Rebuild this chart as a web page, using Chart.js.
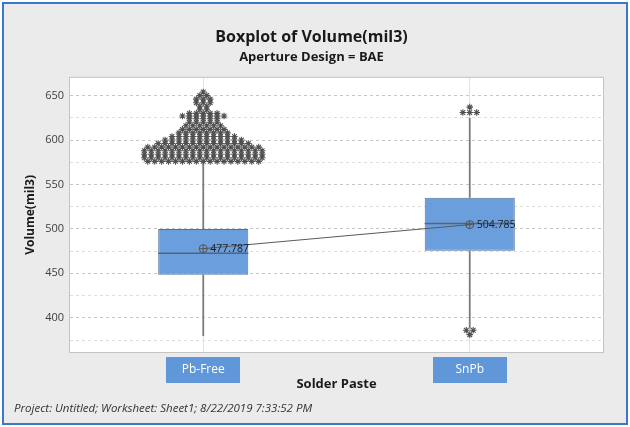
<!DOCTYPE html>
<html>
<head>
<meta charset="utf-8">
<script src="https://cdn.jsdelivr.net/npm/chart.js@4/dist/chart.umd.min.js"></script>
<style>
  html, body { margin: 0; padding: 0; background: #fff; }
</style>
</head>
<body>
<canvas id="boxplot" width="630" height="427"></canvas>
<script>
// Box statistics per solder paste
const categories = ['Pb-Free', 'SnPb'];
const q1 = [448.5, 475.5];
const q3 = [500, 535];
const medians = [472.5, 506];
const means = [477.787, 504.785];
const whiskerLow = [379.5, 388];
const whiskerHigh = [574, 625];

// Outliers: value levels and how many points sit on each level
const pbFreeOutlierLevels = [576, 580, 584, 588, 592, 596, 600, 604, 608, 612, 616, 620, 624, 627, 630, 634, 638, 642, 646, 650, 654];
const pbFreeOutlierCounts = [17, 18, 18, 18, 17, 14, 12, 10, 8, 7, 6, 5, 5, 7, 5, 2, 2, 3, 3, 2, 1];
const snpbOutlierLevels = [381, 386, 631, 637];
const snpbOutlierCounts = [1, 2, 3, 1];

// Axis ticks
const yGridValues = [375, 400, 425, 450, 475, 500, 525, 550, 575, 600, 625, 650];
const yTickLabels = [400, 450, 500, 550, 600, 650];

const FONT = '"Open Sans", "DejaVu Sans", sans-serif';
const BOX_WIDTH = 0.338;   // share of the category spacing
const TIE_STEP = 0.026;    // sideways step between tied outliers

function spreadOutliers(center, levels, counts) {
  const pts = [];
  levels.forEach((v, k) => {
    const n = counts[k];
    for (let j = 0; j < n; j++) {
      pts.push({ x: center + (j - (n - 1) / 2) * TIE_STEP, y: v });
    }
  });
  return pts;
}

function segment(points, color, width, order) {
  return {
    type: 'line',
    data: points,
    borderColor: color,
    borderWidth: width,
    pointRadius: 0,
    order: order
  };
}

const datasets = [];

datasets.push({
  type: 'bar',
  data: categories.map((c, i) => ({ x: i + 1, y: [q1[i], q3[i]] })),
  backgroundColor: '#6a9edc',
  borderColor: '#52729a',
  borderWidth: 1,
  borderSkipped: false,
  categoryPercentage: BOX_WIDTH,
  barPercentage: 1,
  grouped: false,
  order: 10
});

categories.forEach((c, i) => {
  datasets.push(segment([{ x: i + 1, y: whiskerLow[i] }, { x: i + 1, y: q1[i] }], '#7c7c7c', 1.8, 9));
  datasets.push(segment([{ x: i + 1, y: q3[i] }, { x: i + 1, y: whiskerHigh[i] }], '#7c7c7c', 1.8, 9));
  datasets.push(segment([
    { x: i + 1 - BOX_WIDTH / 2, y: medians[i] },
    { x: i + 1 + BOX_WIDTH / 2, y: medians[i] }
  ], '#56637a', 1.5, 5));
});

datasets.push({
  type: 'scatter',
  data: spreadOutliers(1, pbFreeOutlierLevels, pbFreeOutlierCounts)
    .concat(spreadOutliers(2, snpbOutlierLevels, snpbOutlierCounts)),
  pointStyle: 'star',
  pointRadius: 3.3,
  borderColor: '#505050',
  borderWidth: 1.1,
  order: 2
});

// mean connect line with circled crosses
datasets.push({
  type: 'line',
  data: means.map((m, i) => ({ x: i + 1, y: m })),
  borderColor: '#5a5a5a',
  borderWidth: 1,
  pointStyle: 'circle',
  pointRadius: 4,
  pointBorderColor: '#555',
  pointBackgroundColor: 'rgba(0,0,0,0)',
  pointBorderWidth: 1,
  order: 1
});
datasets.push({
  type: 'scatter',
  data: means.map((m, i) => ({ x: i + 1, y: m })),
  pointStyle: 'cross',
  pointRadius: 4,
  borderColor: '#555',
  borderWidth: 1,
  order: 0
});
const MEAN_INDEX = datasets.length - 2;

const frame = {
  id: 'frame',
  beforeDraw(chart) {
    const { ctx, chartArea: a, width, height } = chart;
    ctx.save();
    ctx.fillStyle = '#ffffff';
    ctx.fillRect(0, 0, width, height);
    ctx.fillStyle = '#ebebeb';
    ctx.fillRect(3, 3, width - 6, height - 6);
    ctx.strokeStyle = '#3c78c8';
    ctx.lineWidth = 2;
    ctx.strokeRect(3, 3, width - 6, height - 6);
    ctx.fillStyle = '#ffffff';
    ctx.fillRect(a.left, a.top, a.right - a.left, a.bottom - a.top);
    ctx.strokeStyle = '#c4c4c4';
    ctx.lineWidth = 1;
    ctx.strokeRect(a.left - 0.5, a.top - 0.5, a.right - a.left + 1, a.bottom - a.top + 1);
    // blue tabs behind the category labels
    const xs = chart.scales.x;
    ctx.fillStyle = '#5f97d8';
    categories.forEach((c, i) => {
      const cx = xs.getPixelForValue(i + 1);
      ctx.fillRect(Math.round(cx - 37), Math.round(a.bottom + 5), 74, 26);
    });
    ctx.restore();
  },
  afterDatasetsDraw(chart) {
    const { ctx } = chart;
    const meta = chart.getDatasetMeta(MEAN_INDEX);
    ctx.save();
    ctx.fillStyle = '#1e1e1e';
    ctx.font = '10.5px ' + FONT;
    ctx.textBaseline = 'middle';
    meta.data.forEach((pt, i) => {
      ctx.fillText(means[i].toFixed(3), pt.x + 7, pt.y);
    });
    ctx.restore();
  },
  afterDraw(chart) {
    const { ctx } = chart;
    ctx.save();
    ctx.fillStyle = '#333';
    ctx.font = 'italic 11.5px ' + FONT;
    ctx.textBaseline = 'middle';
    ctx.fillText('Project: Untitled; Worksheet: Sheet1; 8/22/2019 7:33:52 PM', 14, 409);
    ctx.restore();
  }
};

new Chart(document.getElementById('boxplot'), {
  type: 'bar',
  data: { datasets: datasets },
  options: {
    responsive: false,
    animation: false,
    layout: { padding: { top: 18, right: 27, bottom: 0, left: 20 } },
    plugins: {
      legend: { display: false },
      tooltip: { enabled: false },
      title: {
        display: true,
        text: 'Boxplot of Volume(mil3)',
        color: '#1a1a1a',
        font: { family: FONT, size: 16, weight: 'bold' },
        padding: { top: 10, bottom: 2 }
      },
      subtitle: {
        display: true,
        text: 'Aperture Design = BAE',
        color: '#1a1a1a',
        font: { family: FONT, size: 13, weight: 'bold' },
        padding: { top: 0, bottom: 13 }
      }
    },
    scales: {
      x: {
        type: 'linear',
        min: 0.5,
        max: 2.5,
        offset: false,
        afterBuildTicks: s => { s.ticks = categories.map((c, i) => ({ value: i + 1 })); },
        afterFit: s => { s.height = 75; },
        ticks: {
          callback: v => categories[v - 1],
          color: '#ffffff',
          font: { family: FONT, size: 12 },
          padding: 10
        },
        grid: { color: '#e2e2e2', drawTicks: false, offset: false },
        border: { display: false },
        title: {
          display: true,
          text: 'Solder Paste',
          color: '#1a1a1a',
          font: { family: FONT, size: 13, weight: 'bold' },
          padding: { top: 0, bottom: 35 }
        }
      },
      y: {
        type: 'linear',
        min: 361.5,
        max: 670,
        beginAtZero: false,
        afterBuildTicks: s => { s.ticks = yGridValues.map(v => ({ value: v })); },
        afterFit: s => { s.width = 50; },
        ticks: {
          callback: v => (yTickLabels.includes(v) ? String(v) : ''),
          color: '#404040',
          font: { family: FONT, size: 11 },
          padding: 6
        },
        grid: {
          color: ctx => (ctx.tick && yTickLabels.includes(ctx.tick.value) ? '#c6c6c6' : '#dddddd'),
          drawTicks: false
        },
        border: { display: false, dash: [3, 3] },
        title: {
          display: true,
          text: 'Volume(mil3)',
          color: '#1a1a1a',
          font: { family: FONT, size: 12, weight: 'bold' },
          padding: { top: 3, bottom: 0 }
        }
      }
    }
  },
  plugins: [frame]
});
</script>
</body>
</html>
